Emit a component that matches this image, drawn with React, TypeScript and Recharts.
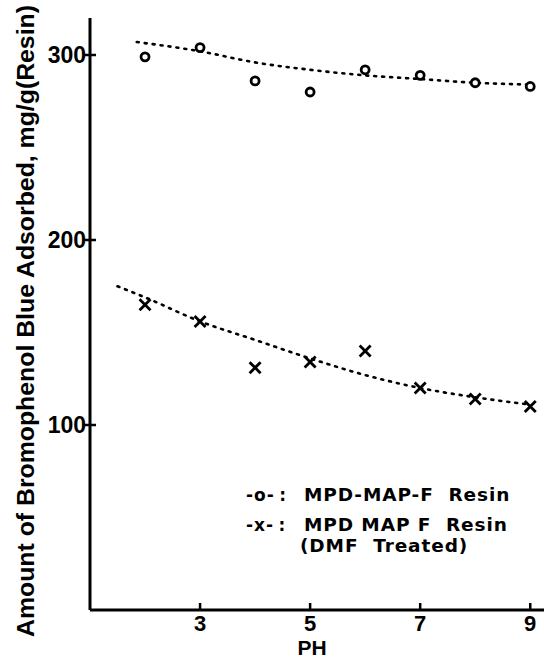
import React from "react";
import {
  ComposedChart, Line, Scatter, XAxis, YAxis, Legend,
} from "recharts";

// measured points (pH 2..9)
const PH = [2, 3, 4, 5, 6, 7, 8, 9];
const MAP_F = [299, 304, 286, 280, 292, 289, 285, 283];
const MAP_F_DMF = [165, 156, 131, 134, 140, 120, 114, 110];

// hand-drawn dotted trend curves
const TREND_O_PH = [1.85, 3, 4, 5, 6, 7, 8, 9];
const TREND_O = [307, 302, 296, 292, 289, 287, 285, 284];
const TREND_X_PH = [1.5, 2, 3, 4, 5, 6, 7, 8, 9];
const TREND_X = [175, 169, 156, 146, 136, 127, 120, 115, 111];

const X_TICKS = [3, 5, 7, 9];
const Y_TICKS = [100, 200, 300];

const Y_LABEL = "Amount of Bromophenol Blue Adsorbed, mg/g(Resin)";
const X_LABEL = "PH";

const toPts = (xs: number[], ys: number[]) => xs.map((x, i) => ({ x, y: ys[i] }));

const circlePts = toPts(PH, MAP_F);
const crossPts = toPts(PH, MAP_F_DMF);
const trendO = toPts(TREND_O_PH, TREND_O);
const trendX = toPts(TREND_X_PH, TREND_X);

const TICK_FONT = "'Liberation Sans', Arial, sans-serif";
const LEGEND_FONT = "'DejaVu Sans', sans-serif";

// eslint-disable-next-line @typescript-eslint/no-explicit-any
function OpenCircle({ cx, cy }: any) {
  return <circle cx={cx} cy={cy} r={4} fill="#fff" stroke="#000" strokeWidth={2.8} />;
}

// eslint-disable-next-line @typescript-eslint/no-explicit-any
function Cross({ cx, cy }: any) {
  const w = 5.5, h = 5.5;
  return (
    <g stroke="#000" strokeWidth={2.8} strokeLinecap="butt">
      <line x1={cx - w} y1={cy - h} x2={cx + w} y2={cy + h} />
      <line x1={cx + w} y1={cy - h} x2={cx - w} y2={cy + h} />
    </g>
  );
}

// eslint-disable-next-line @typescript-eslint/no-explicit-any
function YTick({ x, y, payload }: any) {
  const ax = x + 4; // axis position (tickSize 0, tickMargin 4)
  return (
    <g>
      <line x1={ax - 6} y1={y} x2={ax + 6} y2={y} stroke="#000" strokeWidth={2.5} />
      <text x={ax - 4} y={y} textAnchor="end" dominantBaseline="central"
        fontFamily={TICK_FONT} fontWeight={700} fontSize={23} fill="#000">
        {payload.value}
      </text>
    </g>
  );
}

// eslint-disable-next-line @typescript-eslint/no-explicit-any
function XTick({ x, y, payload }: any) {
  const ay = y - 4;
  return (
    <g>
      <line x1={x} y1={ay} x2={x} y2={ay - 7} stroke="#000" strokeWidth={2.5} />
      <text x={x} y={ay + 13} textAnchor="middle" dominantBaseline="central"
        fontFamily={TICK_FONT} fontWeight={700} fontSize={22} fill="#000">
        {payload.value}
      </text>
    </g>
  );
}

function LegendBox() {
  const row: React.CSSProperties = { display: "flex", whiteSpace: "nowrap" };
  const mark: React.CSSProperties = { width: 58, fontSize: 17, letterSpacing: 1 };
  return (
    <div style={{ fontFamily: LEGEND_FONT, fontWeight: 700, fontSize: 18.5, letterSpacing: 0.9, color: "#000" }}>
      <div style={{ ...row, height: 22, lineHeight: "22px" }}>
        <span style={mark}>-o-&thinsp;:</span>
        <span>MPD-MAP-F&nbsp; Resin</span>
      </div>
      <div style={{ ...row, marginTop: 9, height: 20, lineHeight: "20px" }}>
        <span style={mark}>-x-&thinsp;:</span>
        <span>MPD MAP F&nbsp; Resin</span>
      </div>
      <div style={{ ...row, height: 22, lineHeight: "22px", paddingLeft: 54 }}>
        <span>(DMF&nbsp; Treated)</span>
      </div>
    </div>
  );
}

export default function App() {
  return (
    <div style={{ position: "absolute", left: 0, top: 0, background: "#fff" }}>
      <ComposedChart width={544} height={660} margin={{ top: 18, right: 0, bottom: 0, left: 0 }}>
        <XAxis
          type="number"
          dataKey="x"
          domain={[1, 9.25]}
          ticks={X_TICKS}
          height={50}
          allowDataOverflow
          axisLine={{ stroke: "#000", strokeWidth: 3 }}
          tickLine={false}
          tickSize={0}
          tickMargin={4}
          tick={<XTick />}
          label={(p: any) => {
            const vb = p.viewBox || {};
            return (
              <text x={312} y={(vb.y ?? 610) + 37} textAnchor="middle" dominantBaseline="central"
                fontFamily={TICK_FONT} fontWeight={700} fontSize={21} fill="#000">
                {X_LABEL}
              </text>
            );
          }}
        />
        <YAxis
          type="number"
          dataKey="y"
          domain={[0, 320]}
          ticks={Y_TICKS}
          width={90}
          allowDataOverflow
          axisLine={{ stroke: "#000", strokeWidth: 3 }}
          tickLine={false}
          tickSize={0}
          tickMargin={4}
          tick={<YTick />}
          label={() => (
            <text x={26} y={321} transform="rotate(-90, 26, 321)" textAnchor="middle"
              dominantBaseline="central" fontFamily={TICK_FONT} fontWeight={700}
              fontSize={23} fill="#000" textLength={632} lengthAdjust="spacingAndGlyphs">
              {Y_LABEL}
            </text>
          )}
        />
        <Line data={trendO} dataKey="y" type="monotone" stroke="#000" strokeWidth={2.6}
          strokeDasharray="2 6" strokeLinecap="round" dot={false} activeDot={false}
          isAnimationActive={false} legendType="none" />
        <Line data={trendX} dataKey="y" type="monotone" stroke="#000" strokeWidth={2.6}
          strokeDasharray="2 6" strokeLinecap="round" dot={false} activeDot={false}
          isAnimationActive={false} legendType="none" />
        <Scatter data={circlePts} shape={<OpenCircle />} isAnimationActive={false} />
        <Scatter data={crossPts} shape={<Cross />} isAnimationActive={false} />
        <Legend
          verticalAlign="middle"
          align="center"
          content={() => <LegendBox />}
          wrapperStyle={{ left: 246, top: 484, width: 298 }}
        />
      </ComposedChart>
    </div>
  );
}
